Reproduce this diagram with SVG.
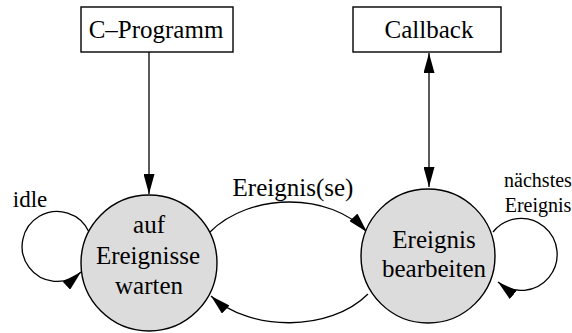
<svg xmlns="http://www.w3.org/2000/svg" width="572" height="333" viewBox="0 0 572 333">
<defs>
<marker id="ah" viewBox="0 0 20 11" refX="20" refY="5.5" markerWidth="20" markerHeight="11" markerUnits="userSpaceOnUse" orient="auto-start-reverse">
<path d="M0,0 L20,5.5 L0,11 Z" fill="#000"/>
</marker>
</defs>
<style>
.big{font-size:25px}
.sm{font-size:20px}
.box{fill:#fff;stroke:#000;stroke-width:1.4}
.st{fill:#dcdcdc;stroke:#000;stroke-width:1.4}
.c{fill:none;stroke:#000;stroke-width:1.3}
</style>
<rect width="572" height="333" fill="#fff"/>
<g font-family="'Liberation Serif', 'Times New Roman', serif" text-anchor="middle" fill="#000">
<g id="connectors">
<line class="c" x1="149" y1="52" x2="149" y2="194" marker-end="url(#ah)"/>
<line class="c" x1="429" y1="53" x2="429" y2="187" marker-start="url(#ah)" marker-end="url(#ah)"/>
<path class="c" d="M210,232 C250,192 330,192 367,232" marker-end="url(#ah)"/>
<path class="c" d="M368,294 C330,332 250,332 211,296" marker-end="url(#ah)"/>
<path class="c" d="M89,232 A35,35 0 1 0 81,272" marker-end="url(#ah)"/>
<path class="c" d="M493,232 A36,36 0 1 1 498,282" marker-end="url(#ah)"/>
<text class="big" x="293" y="196">Ereignis(se)</text>
<text class="big" x="30" y="207" style="font-size:23px">idle</text>
<text class="sm" x="538" y="187">nächstes</text>
<text class="sm" x="538" y="212">Ereignis</text>
</g>
<g id="cprog">
<rect class="box" x="81" y="7" width="152" height="45"/>
<text class="big" x="156" y="38">C–Programm</text>
</g>
<g id="callback">
<rect class="box" x="353" y="7" width="148" height="45"/>
<text class="big" x="429" y="38">Callback</text>
</g>
<g id="warten">
<circle class="st" cx="149" cy="263" r="68"/>
<text class="big" x="149" y="233">auf</text>
<text class="big" x="148" y="264">Ereignisse</text>
<text class="big" x="149" y="294">warten</text>
</g>
<g id="bearbeiten">
<circle class="st" cx="428" cy="256" r="67"/>
<text class="big" x="434" y="248">Ereignis</text>
<text class="big" x="434" y="277">bearbeiten</text>
</g>
</g>
</svg>
